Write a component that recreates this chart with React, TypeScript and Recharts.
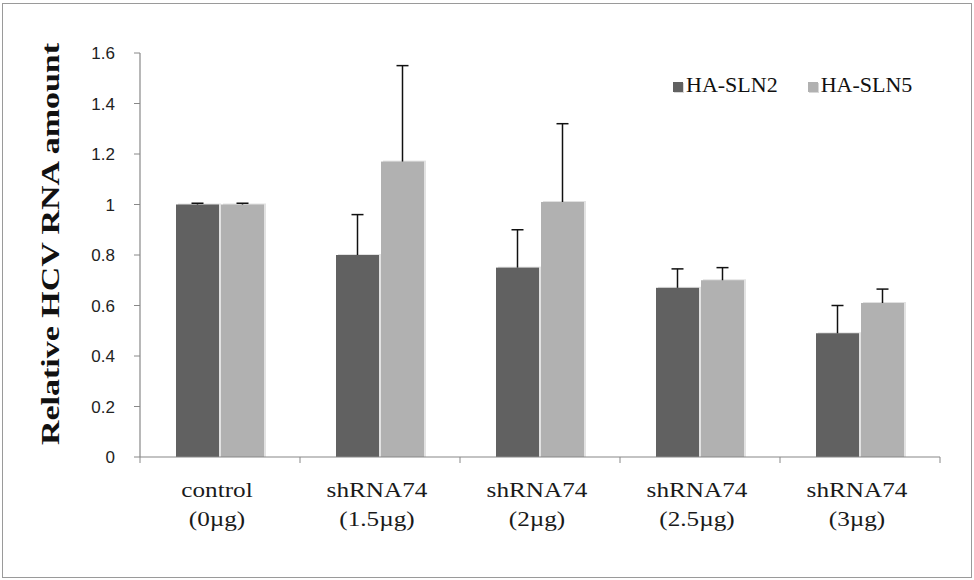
import { Bar, BarChart, Label, Legend, XAxis, YAxis } from 'recharts'

const categories = ['control', 'shRNA74', 'shRNA74', 'shRNA74', 'shRNA74']
const doses = ['(0µg)', '(1.5µg)', '(2µg)', '(2.5µg)', '(3µg)']
const sln2 = [1.0, 0.8, 0.75, 0.67, 0.49]
const sln2Err = [0.005, 0.16, 0.15, 0.075, 0.11]
const sln5 = [1.0, 1.17, 1.01, 0.7, 0.61]
const sln5Err = [0.005, 0.38, 0.31, 0.05, 0.055]
const yTicks = [0, 0.2, 0.4, 0.6, 0.8, 1, 1.2, 1.4, 1.6]

const series = [
  { key: 'sln2', errKey: 'sln2Err', name: 'HA-SLN2', color: '#616161' },
  { key: 'sln5', errKey: 'sln5Err', name: 'HA-SLN5', color: '#b1b1b1' },
]

const data = categories.map((c, i) => ({
  name: c,
  dose: doses[i],
  sln2: sln2[i],
  sln2Err: sln2Err[i],
  sln5: sln5[i],
  sln5Err: sln5Err[i],
}))

const AXIS = '#888888'
const SERIF = '"Liberation Serif", "Times New Roman", serif'

// bar with excel-ish soft shadow and an upper-only error bar
function ShadowBar(props: any) {
  const { x, y, width, height, fill, payload, dataKey, errKey } = props
  const val = payload[dataKey]
  const perUnit = val ? height / val : 0
  const ey = y - payload[errKey] * perUnit
  const cx = x + width / 2
  return (
    <g>
      <rect x={x + 2} y={y - 1} width={width} height={height + 1} fill="#e2e2e2" />
      <rect x={x} y={y} width={width} height={height} fill={fill} />
      <line x1={cx} x2={cx} y1={y} y2={ey} stroke="#111" strokeWidth={1.5} />
      <line x1={cx - 6} x2={cx + 6} y1={ey} y2={ey} stroke="#111" strokeWidth={1.5} />
    </g>
  )
}

function CategoryTick(props: any) {
  const { x, y, payload, index, visibleTicksCount } = props
  const half = payload.offset || 80
  const row = data[index] || data.find((d) => d.name === payload.value)
  return (
    <g>
      <line x1={x - half} x2={x - half} y1={y} y2={y + 6} stroke={AXIS} />
      {index === visibleTicksCount - 1 && (
        <line x1={x + half} x2={x + half} y1={y} y2={y + 6} stroke={AXIS} />
      )}
      <g transform={`translate(${x - 3},${y}) scale(1.2,1)`}>
        <text x={0} y={40} textAnchor="middle" fontFamily={SERIF} fontSize={21} fill="#1a1a1a">
          {payload.value}
        </text>
        <text x={0} y={69} textAnchor="middle" fontFamily={SERIF} fontSize={21} fill="#1a1a1a">
          {row ? row.dose : ''}
        </text>
      </g>
    </g>
  )
}

function LegendBox() {
  return (
    <div style={{ display: 'flex', gap: 30, fontFamily: SERIF, fontSize: 22, color: '#111', lineHeight: '24px' }}>
      {series.map((s) => (
        <span key={s.key} style={{ display: 'flex', alignItems: 'center' }}>
          <span
            style={{
              width: 10,
              height: 10,
              marginTop: 3,
              background: s.color,
              marginRight: 3,
              boxShadow: '1px 1px 0 #d8d8d8',
            }}
          />
          {s.name}
        </span>
      ))}
    </div>
  )
}

export default function App() {
  return (
    <div style={{ position: 'relative', width: 974, height: 580, background: '#fff' }}>
      <style>{'body{margin:0}'}</style>
      <BarChart
        width={974}
        height={580}
        data={data}
        margin={{ top: 53, right: 34, bottom: 0, left: 0 }}
        barSize={43}
        barGap={2}
      >
        <XAxis
          dataKey="name"
          height={123}
          axisLine={{ stroke: AXIS, strokeWidth: 1.2 }}
          tickLine={false}
          tickSize={0}
          tickMargin={0}
          interval={0}
          tick={<CategoryTick />}
        />
        <YAxis
          width={140}
          domain={[0, 1.6]}
          ticks={yTicks}
          interval={0}
          axisLine={{ stroke: AXIS, strokeWidth: 1.2 }}
          tickLine={{ stroke: AXIS }}
          tickSize={6}
          tickMargin={19}
          tick={{ fontFamily: '"Liberation Sans", Arial, sans-serif', fontSize: 17, fill: '#222' }}
        >
          <Label
            content={() => (
              <text
                x={59}
                y={244}
                transform="rotate(-90 59 244)"
                textAnchor="middle"
                fontFamily={SERIF}
                fontWeight="bold"
                fontSize={26}
                textLength={402}
                lengthAdjust="spacingAndGlyphs"
                fill="#111"
              >
                Relative HCV RNA amount
              </text>
            )}
          />
        </YAxis>
        <Legend
          layout="horizontal"
          align="center"
          verticalAlign="middle"
          content={() => <LegendBox />}
          wrapperStyle={{ top: 73, left: 673, width: 'auto' }}
        />
        {series.map((s) => (
          <Bar
            key={s.key}
            dataKey={s.key}
            name={s.name}
            fill={s.color}
            isAnimationActive={false}
            shape={(p: any) => <ShadowBar {...p} dataKey={s.key} errKey={s.errKey} />}
          />
        ))}
      </BarChart>
      <div
        style={{
          position: 'absolute',
          left: 2,
          top: 3,
          width: 968,
          height: 573,
          border: '1.5px solid #9a9a9a',
          pointerEvents: 'none',
        }}
      />
    </div>
  )
}
